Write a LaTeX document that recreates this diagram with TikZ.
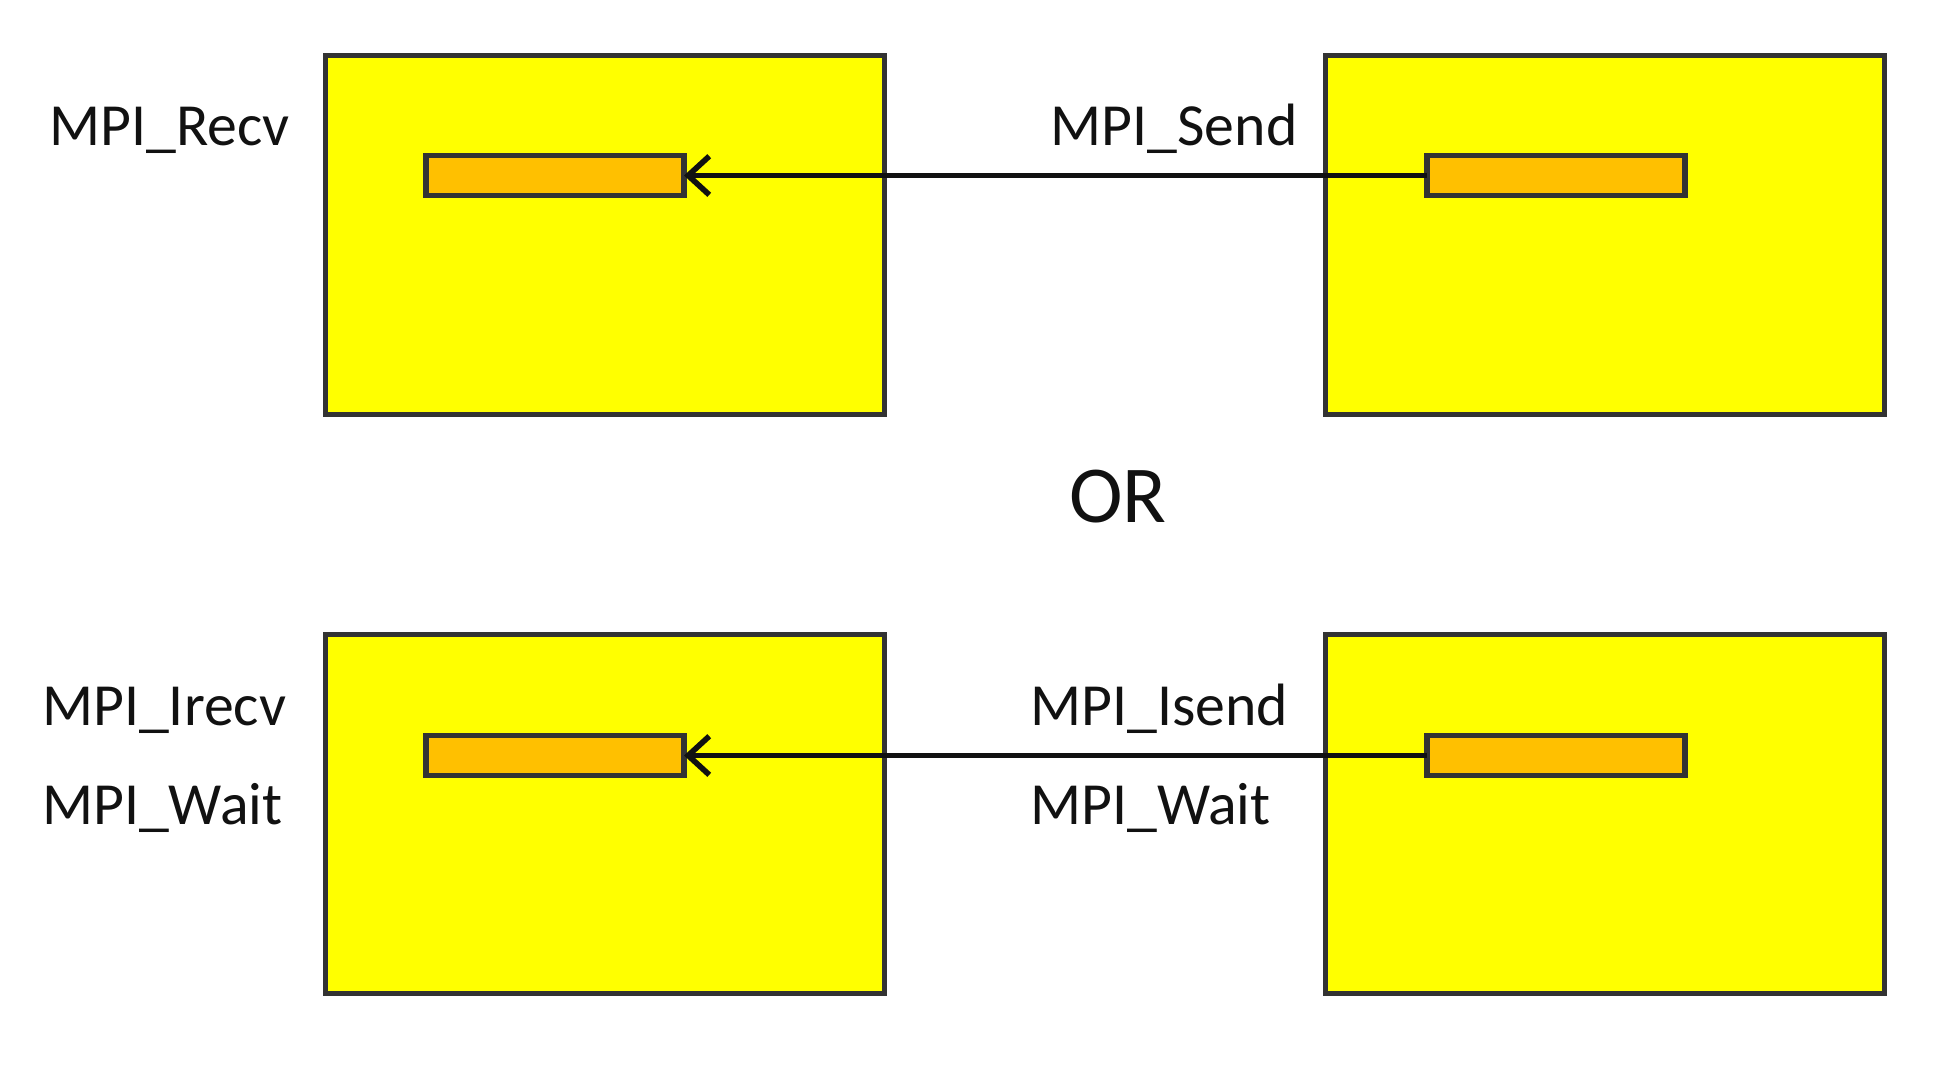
\documentclass[tikz,border=0pt]{standalone}
\usepackage{fontspec}
\setmainfont{Carlito}
\usetikzlibrary{arrows.meta, positioning}
\definecolor{procyellow}{RGB}{255,255,0}
\definecolor{bufferorange}{RGB}{255,192,0}
\definecolor{edgegray}{RGB}{51,51,51}
\definecolor{wireblack}{RGB}{17,17,17}
\tikzstyle{process} = [rectangle, draw=edgegray, fill=procyellow, line width=1.5pt, minimum width=5.59cm, minimum height=3.59cm, inner sep=0pt, outer sep=0pt]
\tikzstyle{buffer} = [rectangle, draw=edgegray, fill=bufferorange, line width=1.5pt, minimum width=2.58cm, minimum height=0.40cm, inner sep=0pt, outer sep=0pt]
\tikzstyle{line} = [draw=wireblack, line width=1.6pt, -{Straight Barb[length=6pt, width=11pt]}]
\tikzstyle{call} = [font=\fontsize{17}{20}\selectfont, text=wireblack, inner sep=0pt, anchor=base west]

\begin{document}
\begin{tikzpicture}
\useasboundingbox (0,0) rectangle (19.51,-10.67);
% blocking pair
\node [process] (recvproc) at (6.05,-2.35) {};
\node [process] (sendproc) at (16.05,-2.35) {};
\node [buffer] (recvbuf) at (5.55,-1.755) {};
\node [buffer] (sendbuf) at (15.56,-1.755) {};
\node [call] (recvcall) at (0.49,-1.45) {MPI\_Recv};
\node [call] (sendcall) at (10.50,-1.45) {MPI\_Send};
\path [line] (sendbuf) -- (recvbuf);
% separator
\node [font=\fontsize{23}{27}\selectfont, text=wireblack, inner sep=0pt, anchor=base] (ortext) at (11.18,-5.22) {OR};
% non-blocking pair
\node [process] (irecvproc) at (6.05,-8.14) {};
\node [process] (isendproc) at (16.05,-8.14) {};
\node [buffer] (irecvbuf) at (5.55,-7.555) {};
\node [buffer] (isendbuf) at (15.56,-7.555) {};
\node [call] (irecvcall) at (0.415,-7.25) {MPI\_Irecv};
\node [call] (irecvwait) at (0.415,-8.24) {MPI\_Wait};
\node [call] (isendcall) at (10.295,-7.25) {MPI\_Isend};
\node [call] (isendwait) at (10.295,-8.24) {MPI\_Wait};
\path [line] (isendbuf) -- (irecvbuf);
\end{tikzpicture}
\end{document}
